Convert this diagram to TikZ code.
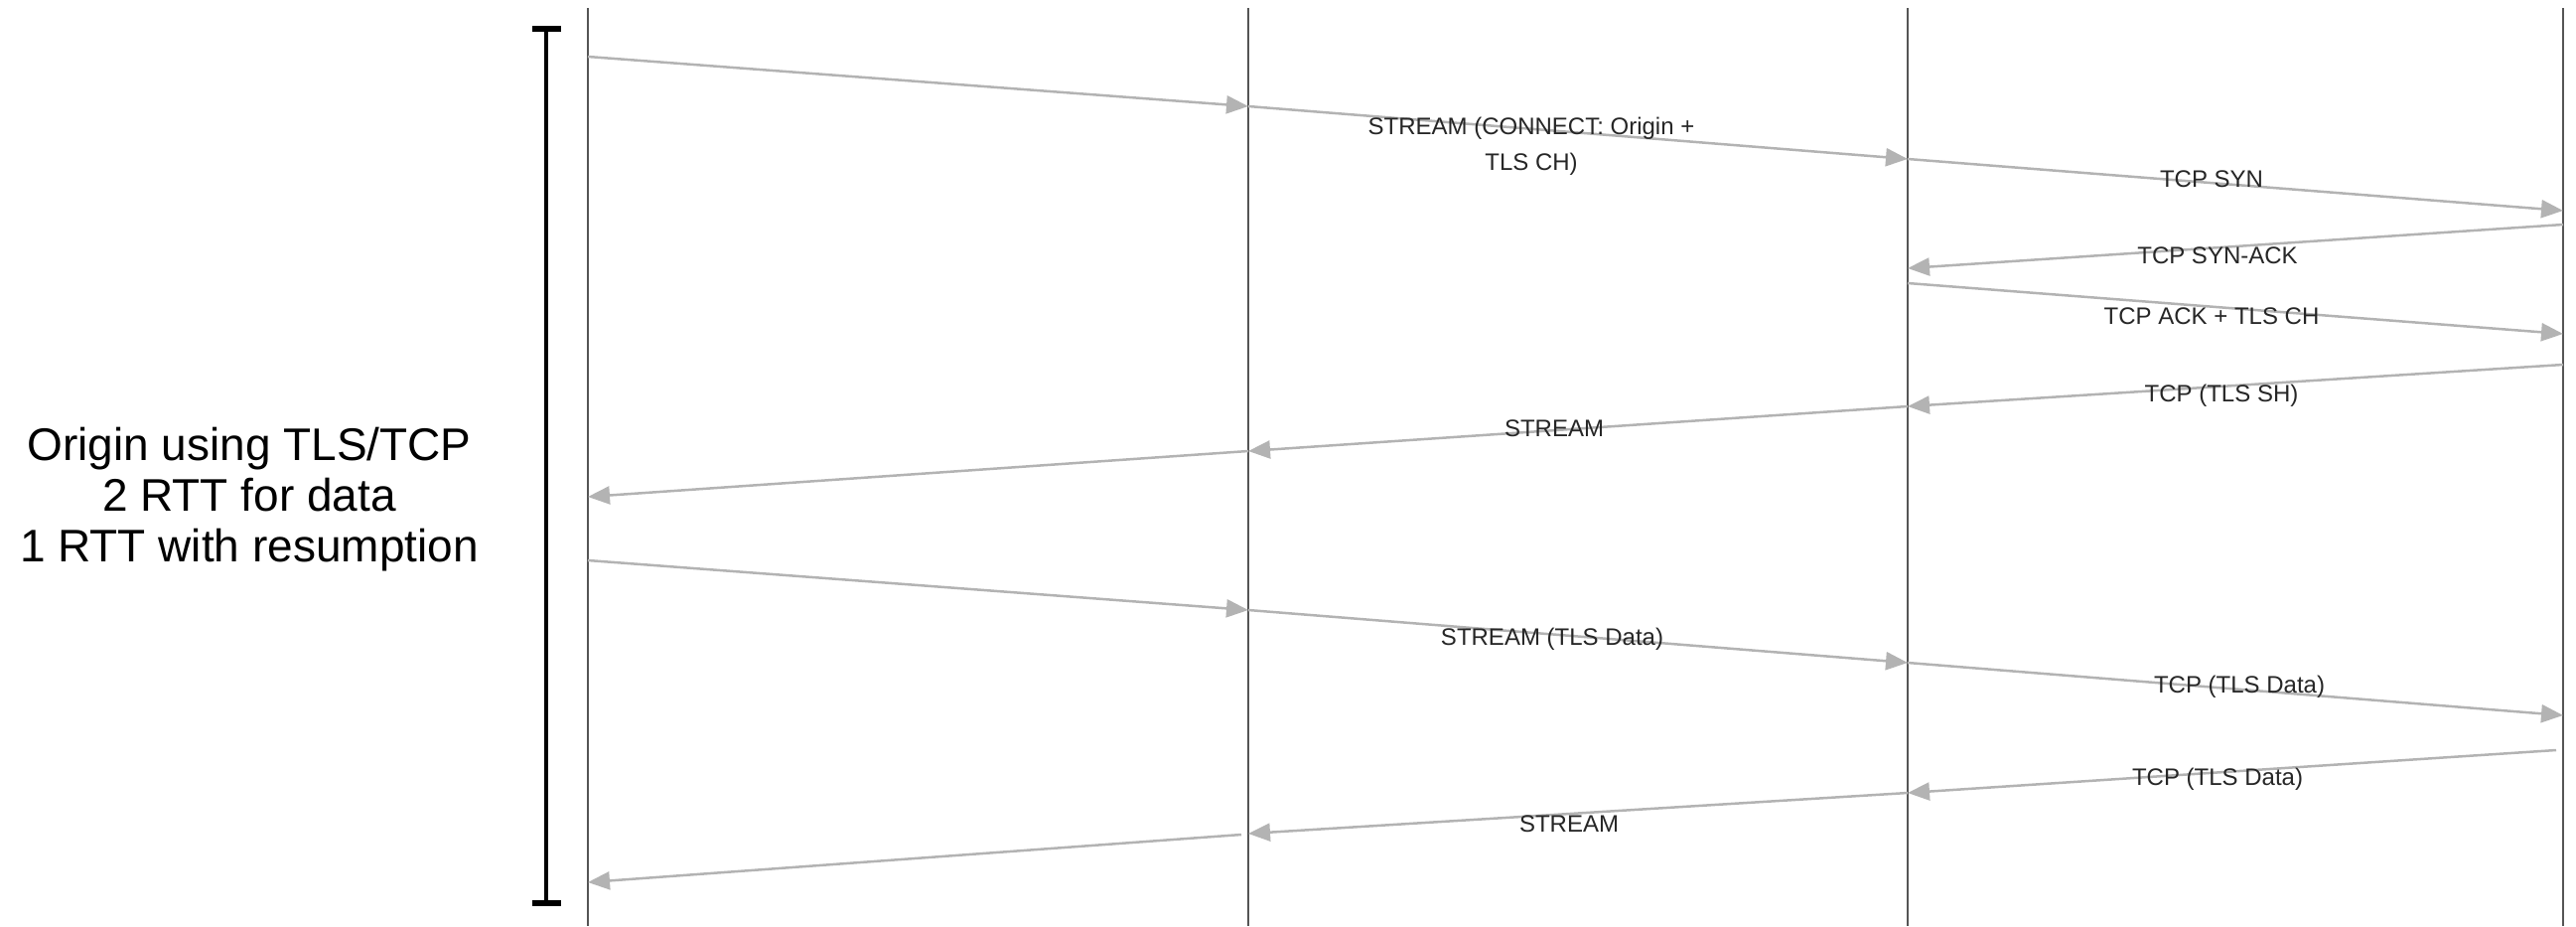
\documentclass[tikz,border=0pt]{standalone}
\usepackage{fontspec}
\setmainfont{Liberation Sans}
\usetikzlibrary{arrows.meta}
\definecolor{lifegray}{HTML}{555555}
\definecolor{msggray}{HTML}{B3B3B3}
\begin{document}
\begin{tikzpicture}[x=1pt,y=-1pt,
  life/.style={draw=lifegray, line width=2pt},
  msg/.style={draw=msggray, line width=2.5pt, -{Triangle[length=22pt,width=18pt]}},
  lbl/.style={font=\fontsize{24}{36}\selectfont, text=black!85, align=center, inner sep=0pt},
  bigtxt/.style={font=\fontsize{46}{51}\selectfont, text=black, align=center, inner sep=0pt},
  brk/.style={draw=black, line width=4.5pt},
  brkcap/.style={draw=black, line width=6pt}]
\useasboundingbox (0,0) rectangle (2594,932);
% lifelines
\coordinate (L1t) at (592,8);   \coordinate (L1b) at (592,932);
\coordinate (L2t) at (1257,8);  \coordinate (L2b) at (1257,932);
\coordinate (L3t) at (1921,8);  \coordinate (L3b) at (1921,932);
\coordinate (L4t) at (2581,8);  \coordinate (L4b) at (2581,932);
\draw[life] (L1t) -- (L1b);
\draw[life] (L2t) -- (L2b);
\draw[life] (L3t) -- (L3b);
\draw[life] (L4t) -- (L4b);
% bracket
\coordinate (Bt) at (550,29); \coordinate (Bb) at (550,909);
\coordinate (Btl) at (536,29); \coordinate (Btr) at (565,29);
\coordinate (Bbl) at (536,909); \coordinate (Bbr) at (565,909);
\draw[brk] (Bt) -- (Bb);
\draw[brkcap] (Btl) -- (Btr);
\draw[brkcap] (Bbl) -- (Bbr);
\node[bigtxt] (desc) at (251,503) {Origin using TLS/TCP\\2 RTT for data\\1 RTT with resumption};
% message points
\coordinate (a1) at (592,57);   \coordinate (a2) at (1257,107);
\coordinate (a3) at (1921,160); \coordinate (a4) at (2581,212);
\coordinate (b1) at (2581,226); \coordinate (b2) at (1921,270);
\coordinate (c1) at (1921,285); \coordinate (c2) at (2581,336);
\coordinate (d1) at (2581,367); \coordinate (d2) at (1921,409);
\coordinate (d3) at (1257,454); \coordinate (d4) at (592,500);
\coordinate (e1) at (592,564);  \coordinate (e2) at (1257,614);
\coordinate (e3) at (1921,667); \coordinate (e4) at (2581,720);
\coordinate (f1) at (2574,755); \coordinate (f2) at (1921,798);
\coordinate (f3) at (1257,839); \coordinate (f4) at (592,888);
\coordinate (f3s) at (1250,840);
% messages
\draw[msg] (a1) -- (a2);
\draw[msg] (a2) -- (a3);
\draw[msg] (a3) -- (a4);
\draw[msg] (b1) -- (b2);
\draw[msg] (c1) -- (c2);
\draw[msg] (d1) -- (d2);
\draw[msg] (d2) -- (d3);
\draw[msg] (d3) -- (d4);
\draw[msg] (e1) -- (e2);
\draw[msg] (e2) -- (e3);
\draw[msg] (e3) -- (e4);
\draw[msg] (f1) -- (f2);
\draw[msg] (f2) -- (f3);
\draw[msg] (f3s) -- (f4);
% labels
\node[lbl] (la2) at (1542,147) {STREAM (CONNECT: Origin +\\TLS CH)};
\node[lbl] (la3) at (2227,180) {TCP SYN};
\node[lbl] (lb) at (2233,257) {TCP SYN-ACK};
\node[lbl] (lc) at (2227,318) {TCP ACK + TLS CH};
\node[lbl] (ld1) at (2237,398) {TCP (TLS SH)};
\node[lbl] (ld2) at (1565,431) {STREAM};
\node[lbl] (le2) at (1563,643) {STREAM (TLS Data)};
\node[lbl] (le3) at (2255,691) {TCP (TLS Data)};
\node[lbl] (lf1) at (2233,784) {TCP (TLS Data)};
\node[lbl] (lf2) at (1580,829) {STREAM};
\end{tikzpicture}
\end{document}
